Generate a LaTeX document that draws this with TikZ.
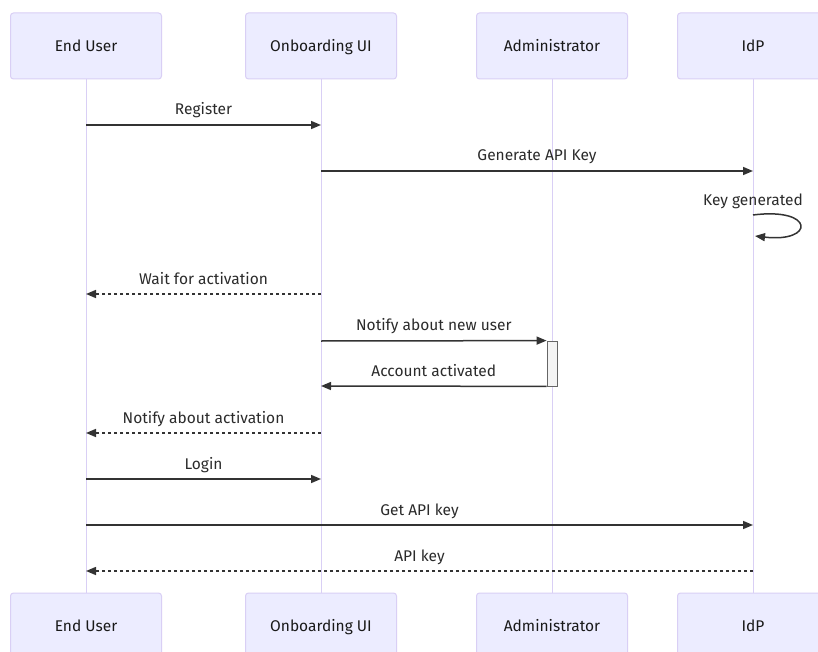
\documentclass[tikz,border=0pt]{standalone}
\usepackage{fontspec}
\setmainfont{Fira Sans}
\usetikzlibrary{arrows.meta,calc}
\definecolor{actorfill}{HTML}{ECECFF}
\definecolor{actorline}{HTML}{D9CFF5}
\definecolor{lifeline}{HTML}{D9CFF5}
\definecolor{msgcol}{HTML}{333333}
\definecolor{actfill}{HTML}{F4F4F4}
\definecolor{actline}{HTML}{666666}
\tikzset{
  actor/.style={draw=actorline, fill=actorfill, line width=1pt, rounded corners=3pt,
    minimum width=151pt, minimum height=66pt, inner sep=0pt,
    text height=11pt, text depth=0pt,
    font=\fontsize{15.5}{17}\selectfont, text=black!90},
  lifel/.style={draw=lifeline, line width=1pt},
  msg/.style={draw=msgcol, line width=1.5pt, -{Triangle[length=10pt,width=8pt]}},
  reply/.style={msg, dash pattern=on 3pt off 3pt},
  lbl/.style={font=\fontsize{15.5}{17}\selectfont, text=msgcol!85!black, inner sep=0pt, anchor=base},
  actbox/.style={draw=actline, fill=actfill, line width=0.8pt}
}
\begin{document}
\begin{tikzpicture}[x=1pt,y=-1pt]
\useasboundingbox (0,0) rectangle (818,652);
\fill[white] (0,0) rectangle (818,652);

% participants, top row
\node[actor] (eu)  at (86,46)  {End User};
\node[actor] (ui)  at (321,46) {Onboarding UI};
\node[actor] (adm) at (552,46) {Administrator};
\node[actor] (idp) at (753,46) {IdP};
% participants, bottom row
\node[actor] (eub)  at (86,626)  {End User};
\node[actor] (uib)  at (321,626) {Onboarding UI};
\node[actor] (admb) at (552,626) {Administrator};
\node[actor] (idpb) at (753,626) {IdP};

% lifelines
\draw[lifel] (eu.south) -- (eub.north);
\draw[lifel] (ui.south) -- (uib.north);
\draw[lifel] (adm.south) -- (admb.north);
\draw[lifel] (idp.south) -- (idpb.north);

% activation bar on the administrator
\node[actbox, minimum width=10pt, minimum height=45pt, inner sep=0pt] (act) at (552,363.5) {};

% message end points on the lifelines
\coordinate (r1a) at (86,125);  \coordinate (r1b) at (321,125);
\coordinate (r2a) at (321,171); \coordinate (r2b) at (753,171);
\coordinate (r3a) at (753,215); \coordinate (r3b) at (755,236);
\coordinate (r4a) at (321,294); \coordinate (r4b) at (86,294);
\coordinate (r5a) at (321,341); \coordinate (r5b) at (act.north west);
\coordinate (r6a) at (act.south west); \coordinate (r6b) at (321,386);
\coordinate (r7a) at (321,433); \coordinate (r7b) at (86,433);
\coordinate (r8a) at (86,479);  \coordinate (r8b) at (321,479);
\coordinate (r9a) at (86,525);  \coordinate (r9b) at (753,525);
\coordinate (r10a) at (753,571); \coordinate (r10b) at (86,571);

% messages
\draw[msg] (r1a) -- (r1b);
\node[lbl] at ($(r1a)!0.5!(r1b)+(0,-10)$) {Register};

\draw[msg] (r2a) -- (r2b);
\node[lbl] at ($(r2a)!0.5!(r2b)+(0,-10)$) {Generate API Key};

\draw[msg] (r3a) .. controls (815,207) and (815,243) .. (r3b);
\node[lbl] at (753,206) {Key generated};

\draw[reply] (r4a) -- (r4b);
\node[lbl] at ($(r4a)!0.5!(r4b)+(0,-10)$) {Wait for activation};

\draw[msg] (r5a) -- (r5b);
\node[lbl] at ($(r5a)!0.5!(r5b)+(0,-10)$) {Notify about new user};

\draw[msg] (r6a) -- (r6b);
\node[lbl] at ($(r6a)!0.5!(r6b)+(0,-10)$) {Account activated};

\draw[reply] (r7a) -- (r7b);
\node[lbl] at ($(r7a)!0.5!(r7b)+(0,-10)$) {Notify about activation};

\draw[msg] (r8a) -- (r8b);
\node[lbl] at ($(r8a)!0.5!(r8b)+(0,-10)$) {Login};

\draw[msg] (r9a) -- (r9b);
\node[lbl] at ($(r9a)!0.5!(r9b)+(0,-10)$) {Get API key};

\draw[reply] (r10a) -- (r10b);
\node[lbl] at ($(r10a)!0.5!(r10b)+(0,-10)$) {API key};
\end{tikzpicture}
\end{document}
